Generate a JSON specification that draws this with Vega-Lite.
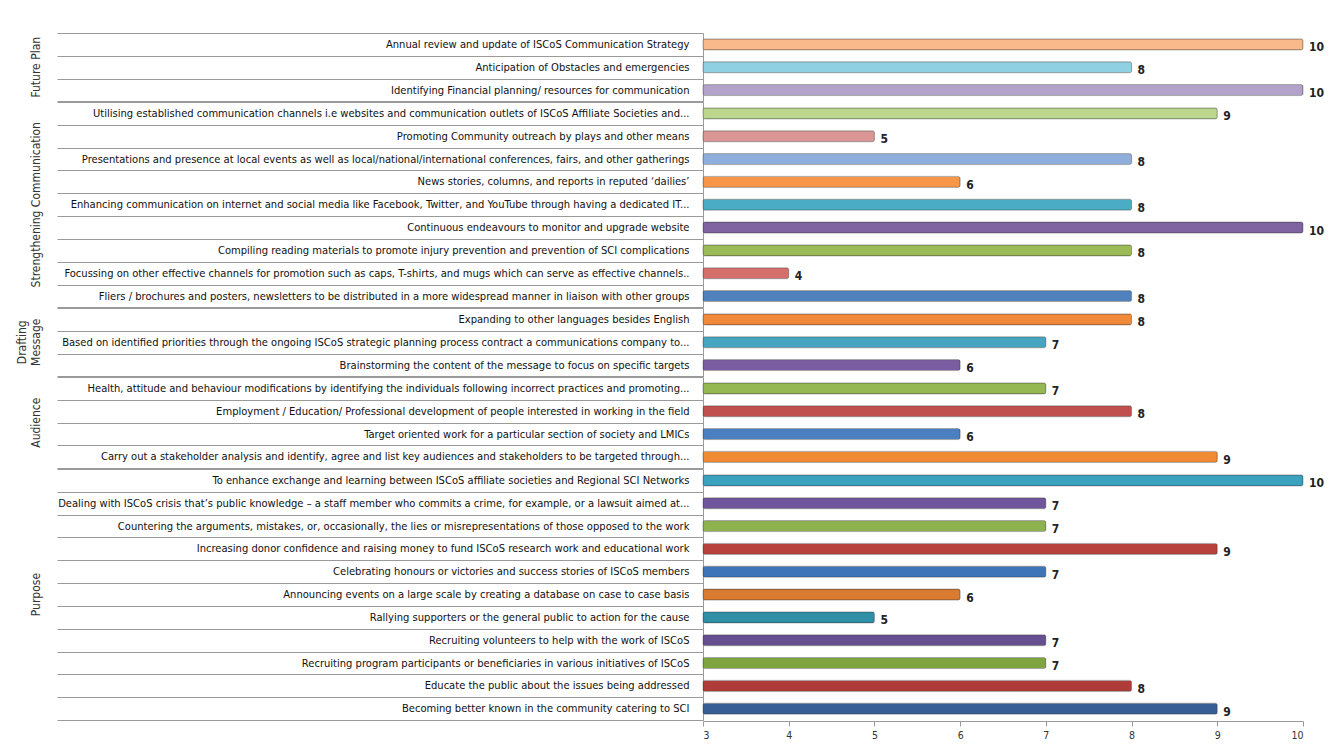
{
  "$schema": "https://vega.github.io/schema/vega-lite/v6.json",
  "padding": {"left": 16, "top": 27, "right": 10, "bottom": 5},
  "background": "white",
  "bounds": "flush",
  "config": {
    "view": {"stroke": null},
    "font": "DejaVu Sans Condensed",
    "axis": {"labelFont": "DejaVu Sans Condensed", "labelColor": "#111"},
    "header": {"labelFont": "DejaVu Sans Condensed"}
  },
  "data": {
    "values": [
      {"group": "Future Plan", "ord": 1, "item": "Annual review and update of ISCoS Communication Strategy", "value": 10},
      {"group": "Future Plan", "ord": 2, "item": "Anticipation of Obstacles and emergencies", "value": 8},
      {"group": "Future Plan", "ord": 3, "item": "Identifying Financial planning/  resources for communication", "value": 10},
      {"group": "Strengthening Communication", "ord": 4, "item": "Utilising established communication channels i.e websites and  communication outlets of ISCoS Affiliate Societies and...", "value": 9},
      {"group": "Strengthening Communication", "ord": 5, "item": "Promoting Community outreach by plays and other means", "value": 5},
      {"group": "Strengthening Communication", "ord": 6, "item": "Presentations and presence at local events as well as local/national/international conferences, fairs, and other gatherings", "value": 8},
      {"group": "Strengthening Communication", "ord": 7, "item": "News stories, columns, and  reports in reputed ‘dailies’", "value": 6},
      {"group": "Strengthening Communication", "ord": 8, "item": "Enhancing communication on internet and social media like Facebook, Twitter, and YouTube through having  a dedicated IT...", "value": 8},
      {"group": "Strengthening Communication", "ord": 9, "item": "Continuous endeavours to monitor and  upgrade website", "value": 10},
      {"group": "Strengthening Communication", "ord": 10, "item": "Compiling reading materials to promote  injury prevention and prevention of SCI complications", "value": 8},
      {"group": "Strengthening Communication", "ord": 11, "item": "Focussing on other effective channels for promotion such as caps, T-shirts,  and mugs which can serve as effective channels..", "value": 4},
      {"group": "Strengthening Communication", "ord": 12, "item": "Fliers / brochures and posters,  newsletters to be distributed in a more widespread manner in liaison with other groups", "value": 8},
      {"group": "Drafting Message", "ord": 13, "item": "Expanding to other languages  besides English", "value": 8},
      {"group": "Drafting Message", "ord": 14, "item": "Based on identified priorities through the ongoing ISCoS strategic planning process contract  a  communications company to...", "value": 7},
      {"group": "Drafting Message", "ord": 15, "item": "Brainstorming the content of the message to focus on specific targets", "value": 6},
      {"group": "Audience", "ord": 16, "item": "Health, attitude and behaviour modifications by identifying the individuals following incorrect practices and promoting...", "value": 7},
      {"group": "Audience", "ord": 17, "item": "Employment / Education/ Professional development of people interested in working in the field", "value": 8},
      {"group": "Audience", "ord": 18, "item": "Target oriented work for a particular section of society and LMICs", "value": 6},
      {"group": "Audience", "ord": 19, "item": "Carry out a stakeholder analysis and identify, agree and list key audiences and stakeholders to be targeted through...", "value": 9},
      {"group": "Purpose", "ord": 20, "item": "To enhance exchange and learning between ISCoS affiliate societies and Regional SCI Networks", "value": 10},
      {"group": "Purpose", "ord": 21, "item": "Dealing with ISCoS crisis that’s public knowledge – a staff member who commits a crime, for example, or a lawsuit aimed at...", "value": 7},
      {"group": "Purpose", "ord": 22, "item": "Countering the arguments, mistakes,  or, occasionally, the lies or misrepresentations of those opposed to the  work", "value": 7},
      {"group": "Purpose", "ord": 23, "item": "Increasing donor confidence and raising money to fund ISCoS research work and educational work", "value": 9},
      {"group": "Purpose", "ord": 24, "item": "Celebrating honours or victories and success stories of ISCoS members", "value": 7},
      {"group": "Purpose", "ord": 25, "item": "Announcing events on a large scale by creating a database  on case to case basis", "value": 6},
      {"group": "Purpose", "ord": 26, "item": "Rallying supporters or the general public to action for the cause", "value": 5},
      {"group": "Purpose", "ord": 27, "item": "Recruiting volunteers to help with the work of ISCoS", "value": 7},
      {"group": "Purpose", "ord": 28, "item": "Recruiting program participants or beneficiaries in various initiatives of ISCoS", "value": 7},
      {"group": "Purpose", "ord": 29, "item": "Educate the public about the issues being addressed", "value": 8},
      {"group": "Purpose", "ord": 30, "item": "Becoming better known in the community catering to SCI", "value": 9}
    ]
  },
  "facet": {
    "row": {
      "field": "group",
      "type": "nominal",
      "sort": ["Future Plan", "Strengthening Communication", "Drafting Message", "Audience", "Purpose"],
      "title": null,
      "header": {
        "labelOrient": "left",
        "labelAngle": -90,
        "labelFontSize": 12,
        "labelColor": "#333",
        "labelPadding": 655,
        "labelExpr": "datum.value == 'Drafting Message' ? ['Drafting', 'Message'] : datum.value"
      }
    }
  },
  "spacing": 0,
  "resolve": {"scale": {"y": "independent"}},
  "spec": {
    "width": 600,
    "height": {"step": 22.83},
    "encoding": {
      "y": {
        "field": "item",
        "type": "nominal",
        "sort": {"field": "ord", "op": "min"},
        "title": null,
        "scale": {"paddingInner": 0, "paddingOuter": 0},
        "axis": {
          "tickBand": "extent",
          "tickSize": 646,
          "tickColor": "#9a9a9a",
          "labelPadding": -632,
          "labelLimit": 0,
          "labelFontSize": 11.1,
          "domainColor": "#9a9a9a"
        }
      },
      "x": {
        "field": "value",
        "type": "quantitative",
        "scale": {"domain": [3, 10], "nice": false, "clamp": true},
        "title": null,
        "axis": {
          "values": [3, 4, 5, 6, 7, 8, 9, 10],
          "grid": false,
          "labelFontSize": 10.5,
          "labelColor": "#333",
          "labelPadding": 4,
          "domainColor": "#9a9a9a",
          "tickColor": "#9a9a9a",
          "tickSize": 5
        }
      }
    },
    "layer": [
      {
        "mark": {"type": "bar", "size": 11, "cornerRadius": 2, "stroke": "#333", "strokeOpacity": 0.35, "strokeWidth": 1},
        "encoding": {
          "color": {
            "field": "ord",
            "type": "ordinal",
            "legend": null,
            "scale": {
              "range": ["#f9b98a", "#8fd0e3", "#b3a2c9", "#bcd68e", "#d99694", "#8eaedc", "#f79646", "#4bacc6", "#8064a2", "#9bbb59", "#d46f6c", "#4f81bd", "#f08a3a", "#46a5c0", "#7a5ca0", "#95b853", "#c0504d", "#4a7fc1", "#f08a33", "#3aa2bf", "#6f559b", "#8db24e", "#b8403d", "#3e75b9", "#d97b30", "#2f8fa6", "#664f90", "#7ea540", "#b03c39", "#375f96"]
            }
          }
        }
      },
      {
        "mark": {"type": "text", "align": "left", "dx": 6, "dy": 3, "fontSize": 12, "fontWeight": "bold", "color": "#222", "font": "DejaVu Sans Condensed"},
        "encoding": {"text": {"field": "value", "type": "quantitative"}}
      }
    ]
  }
}
